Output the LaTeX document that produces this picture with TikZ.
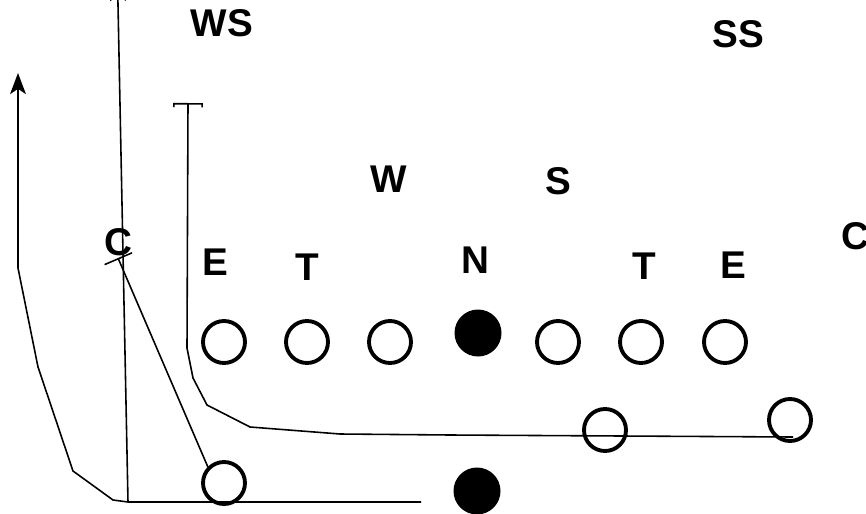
\documentclass[tikz,border=0pt]{standalone}
\usepackage{fontspec}
\setmainfont{Liberation Sans}
\usetikzlibrary{arrows.meta}

\begin{document}
\begin{tikzpicture}[
  player/.style={draw, circle, line width=2.2pt, minimum size=0.84cm, inner sep=0pt},
  snap/.style={circle, fill=black, minimum size=0.94cm, inner sep=0pt},
  dlabel/.style={anchor=base, inner sep=0pt, font=\fontsize{22}{26}\selectfont\bfseries},
  route/.style={line width=0.9pt}
]
  \useasboundingbox (0,0) rectangle (17.32,-10.28);

  % Defense
  \node[dlabel] (ws) at (4.44,-0.74) {WS};
  \node[dlabel] (ss) at (14.76,-0.96) {SS};
  \node[dlabel] (wlb) at (7.78,-3.84) {W};
  \node[dlabel] (slb) at (11.16,-3.88) {S};
  \node[dlabel] (lc) at (2.36,-5.10) {C};
  \node[dlabel] (le) at (4.30,-5.50) {E};
  \node[dlabel] (lt) at (6.14,-5.60) {T};
  \node[dlabel] (nt) at (9.50,-5.46) {N};
  \node[dlabel] (rt) at (12.88,-5.58) {T};
  \node[dlabel] (re) at (14.66,-5.56) {E};
  \node[dlabel] (rc) at (17.10,-4.98) {C};

  % Offensive line
  \node[player] (ol1) at (4.48,-6.84) {};
  \node[player] (ol2) at (6.14,-6.84) {};
  \node[player] (ol3) at (7.80,-6.84) {};
  \node[snap] (ctr) at (9.56,-6.66) {};
  \node[player] (ol4) at (11.16,-6.84) {};
  \node[player] (ol5) at (12.82,-6.84) {};
  \node[player] (ol6) at (14.50,-6.84) {};

  % Backs
  \node[player] (wing) at (12.10,-8.60) {};
  \node[player] (flank) at (15.80,-8.40) {};
  \node[player] (hb) at (4.48,-9.66) {};
  \node[snap] (qb) at (9.54,-9.82) {};

  % Routes
  \coordinate (qbl) at (8.42,-10.04);
  \coordinate (flat) at (2.56,-10.04);
  \coordinate (side) at (0.36,-1.46);
  \coordinate (deep) at (2.35,0.40);
  \coordinate (cblk) at (2.36,-5.16);
  \coordinate (flend) at (15.86,-8.74);
  \coordinate (stop) at (3.76,-2.06);

  \draw[route, -{Stealth[length=12pt, width=9pt, inset=3pt]}] (qbl) -- (flat) -- (2.26,-10.00) -- (1.46,-9.42) -- (0.76,-7.34) -- (0.36,-5.36) -- (side);
  \draw[route, -{Stealth[length=12pt, width=9pt, inset=3pt]}] (flat) -- (deep);
  \draw[route, -{Bar[width=17pt]}] (hb.135) -- (cblk);
  \draw[route, -{Bracket[width=17pt, length=2pt]}] (flend) -- (9.00,-8.70) -- (6.80,-8.68) -- (5.00,-8.54) -- (4.14,-8.10) -- (3.86,-7.56) -- (3.74,-6.96) -- (stop);
\end{tikzpicture}
\end{document}
